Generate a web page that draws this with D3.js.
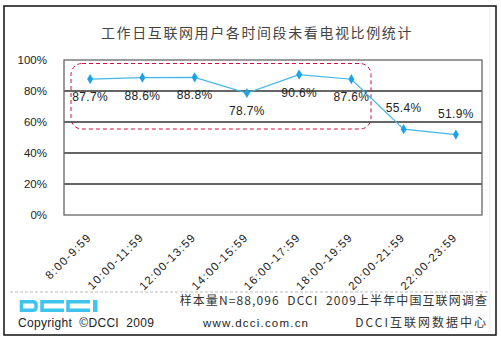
<!DOCTYPE html>
<html><head><meta charset="utf-8">
<script src="https://cdn.jsdelivr.net/npm/d3@7"></script>
<style>body{margin:0;background:#fff;}svg{display:block;}</style>
</head><body><svg id="c" width="501" height="338"></svg>
<script>
const categories = ["8:00-9:59","10:00-11:59","12:00-13:59","14:00-15:59","16:00-17:59","18:00-19:59","20:00-21:59","22:00-23:59"];
const values = [87.7, 88.6, 88.8, 78.7, 90.6, 87.6, 55.4, 51.9];
const valueLabels = ["87.7%","88.6%","88.8%","78.7%","90.6%","87.6%","55.4%","51.9%"];
const labelAbove = [false,false,false,false,false,false,true,true];
const yTicks = [0,20,40,60,80,100];
const title = "工作日互联网用户各时间段未看电视比例统计";

const svg = d3.select("#c");
const font = "'Liberation Sans','DejaVu Sans','Noto Sans CJK SC',sans-serif";
const cjk = "'Noto Sans CJK SC',sans-serif";
const m = {l:64, r:482, t:60, b:215};

// outer border
svg.append("rect").attr("x",4).attr("y",6).attr("width",492).attr("height",329)
  .attr("fill","#fff").attr("stroke","#111").attr("stroke-width",1.5);
svg.append("line").attr("x1",490).attr("x2",490).attr("y1",8).attr("y2",333).attr("stroke","#eee");

svg.append("text").attr("x",257).attr("y",38).attr("text-anchor","middle")
  .attr("font-family",cjk).attr("font-size",14).attr("letter-spacing",1.6).attr("fill","#444").text(title);

const x = d3.scaleBand().domain(categories).range([m.l,m.r]);
const y = d3.scaleLinear().domain([0,100]).range([m.b,m.t]);

// grid
svg.append("g").selectAll("line").data(yTicks.filter(t=>t>0 && t<100)).join("line")
  .attr("x1",m.l).attr("x2",m.r).attr("y1",d=>y(d)).attr("y2",d=>y(d))
  .attr("stroke","#333").attr("stroke-width",1.3);
svg.append("rect").attr("x",m.l).attr("y",m.t).attr("width",m.r-m.l).attr("height",m.b-m.t)
  .attr("fill","none").attr("stroke","#666").attr("stroke-width",1.3);

// y axis labels
svg.append("g").selectAll("text").data(yTicks).join("text")
  .attr("x",47).attr("y",d=>y(d)+4).attr("text-anchor","end")
  .attr("font-family",font).attr("font-size",11.5).attr("fill","#222").text(d=>d+"%");

// x axis labels
svg.append("g").selectAll("text").data(categories).join("text")
  .attr("text-anchor","end").attr("font-family",font).attr("font-size",11.5).attr("letter-spacing",1.2).attr("fill","#222")
  .attr("transform",d=>`translate(${x(d)+x.bandwidth()/2+2},${238}) rotate(-45)`).text(d=>d);

// dashed rounded box
svg.append("rect").attr("x",x(categories[0])+7).attr("y",63.5).attr("width",300).attr("height",65.5)
  .attr("rx",11).attr("fill","none").attr("stroke","#d0103a").attr("stroke-width",1).attr("stroke-dasharray","4,3");

const cx = d => x(d)+x.bandwidth()/2;
const line = d3.line().x((d,i)=>cx(categories[i])).y(d=>y(d));
svg.append("path").datum(values).attr("d",line).attr("fill","none").attr("stroke","#46b6e6").attr("stroke-width",1.2);
svg.append("g").selectAll("path").data(values).join("path")
  .attr("d",d3.symbol(d3.symbolDiamond,30))
  .attr("transform",(d,i)=>`translate(${cx(categories[i])},${y(d)})`).attr("fill","#1aa3e8");
svg.append("g").selectAll("text").data(values).join("text")
  .attr("x",(d,i)=>cx(categories[i])).attr("y",(d,i)=>labelAbove[i]? y(d)-17 : y(d)+22)
  .attr("text-anchor","middle").attr("font-family",font).attr("font-size",12).attr("letter-spacing",0.3).attr("fill","#222")
  .text((d,i)=>valueLabels[i]);

// footer
svg.append("line").attr("x1",10).attr("x2",490).attr("y1",292).attr("y2",292)
  .attr("stroke","#bbb").attr("stroke-dasharray","3,2");
const logo = svg.append("g").attr("fill","none").attr("stroke","#3fc4ee").attr("stroke-width",3.5);
logo.append("path").attr("d","M21.5,301.7 H33 Q36,301.7 36,305 V307.5 Q36,310.3 33,310.3 H21.5 Z");
logo.append("path").attr("d","M64,301.7 H42 V310.3 H64");
logo.append("path").attr("d","M90,301.7 H68 V310.3 H90");
svg.append("rect").attr("x",93).attr("y",300).attr("width",4.5).attr("height",12).attr("fill","#3fc4ee");

svg.append("text").attr("x",18).attr("y",327).attr("font-family",font).attr("font-size",12).attr("fill","#222")
  .attr("letter-spacing",0.3).attr("xml:space","preserve").text("Copyright  ©DCCI  2009");
svg.append("text").attr("x",203).attr("y",327).attr("font-family",font).attr("font-size",11.5).attr("fill","#222")
  .attr("letter-spacing",1.2).text("www.dcci.com.cn");
svg.append("text").attr("x",488).attr("y",305).attr("text-anchor","end").attr("font-family",cjk).attr("font-size",12).attr("fill","#333")
  .attr("letter-spacing",1.1).attr("xml:space","preserve").text("样本量N=88,096  DCCI  2009上半年中国互联网调查");
svg.append("text").attr("x",488).attr("y",327).attr("text-anchor","end").attr("font-family",cjk).attr("font-size",12).attr("fill","#333")
  .attr("letter-spacing",2).text("DCCI互联网数据中心");
</script></body></html>
